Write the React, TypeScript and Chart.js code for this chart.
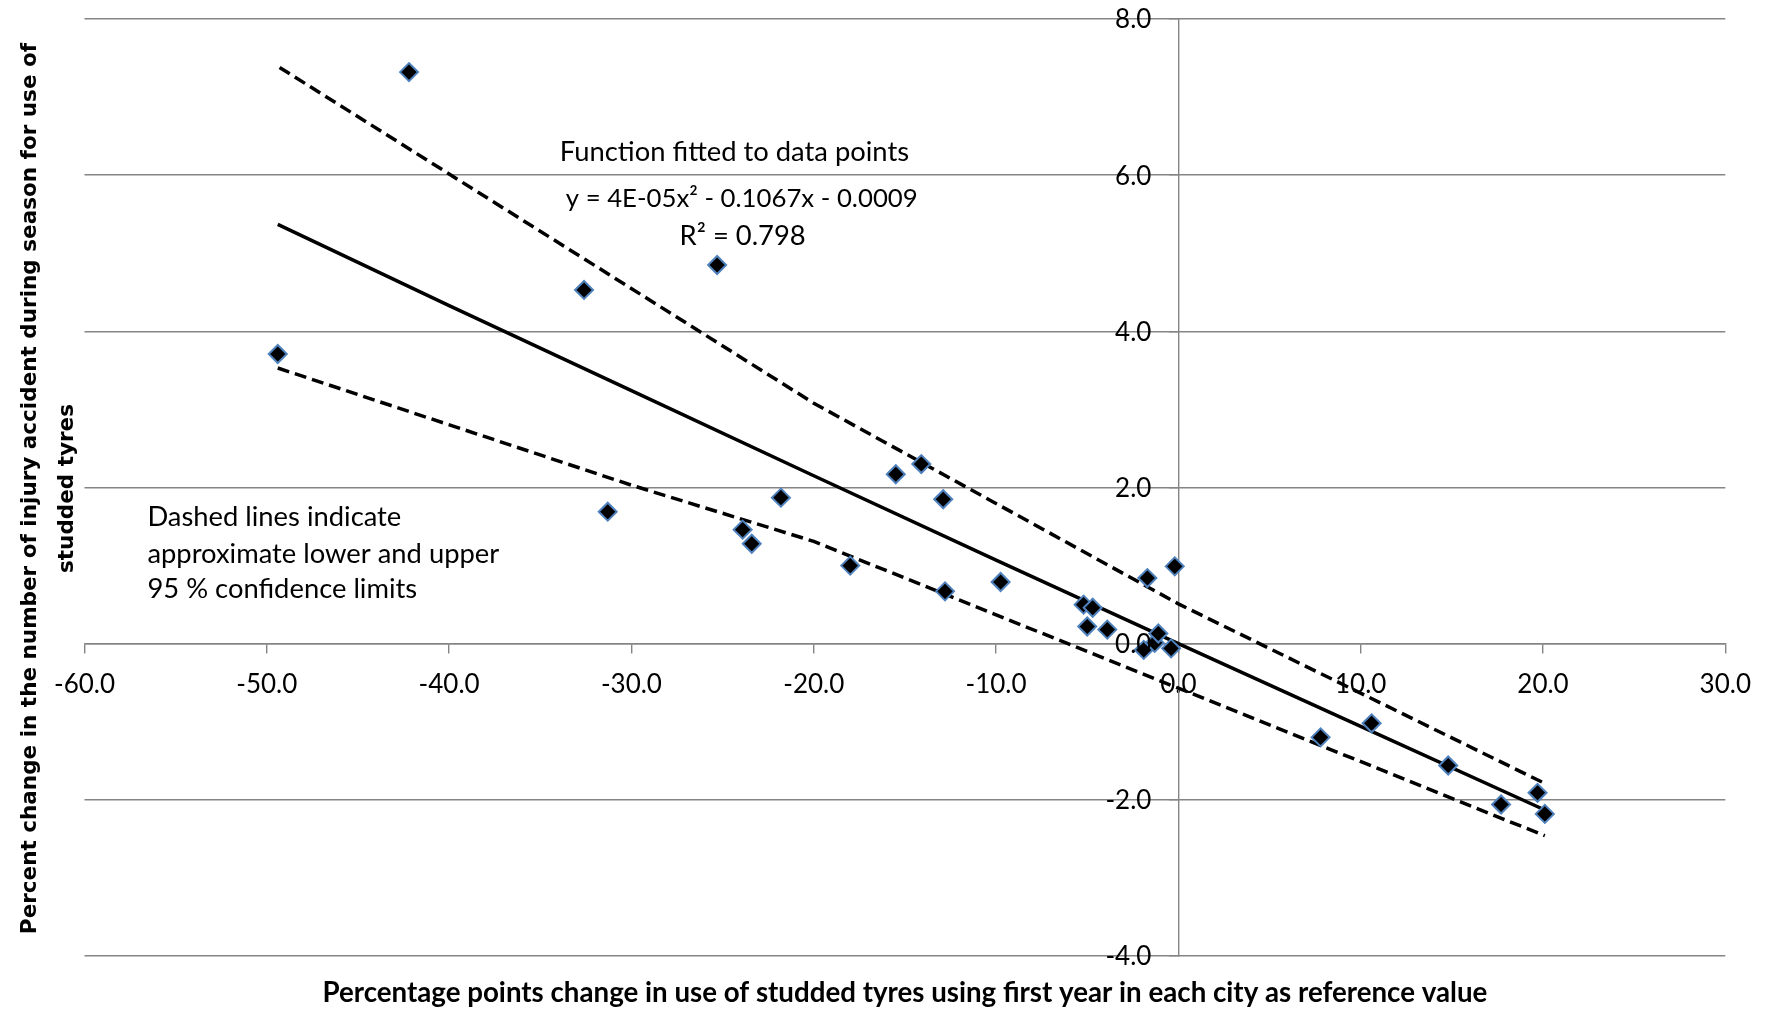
import React, { useEffect, useRef } from "react";
import { Chart, registerables } from "chart.js";

Chart.register(...registerables);

// ---- data ----
const pointX = [-49.4, -42.2, -32.6, -31.3, -25.3, -23.9, -23.4, -21.8, -18.0, -15.5, -14.1, -12.9, -12.8, -9.75, -5.2, -4.7, -5.0, -3.9, -1.7, -0.2, -1.9, -1.3, -1.1, -0.4, 7.8, 10.6, 14.8, 17.7, 19.7, 20.1];
const pointY = [3.71, 7.32, 4.53, 1.69, 4.85, 1.46, 1.28, 1.87, 1.0, 2.17, 2.3, 1.85, 0.67, 0.79, 0.5, 0.46, 0.22, 0.18, 0.84, 0.99, -0.08, 0.01, 0.13, -0.06, -1.2, -1.02, -1.56, -2.06, -1.91, -2.18];

const fitX = [-49.4, -40, -30, -20, -10, 0, 10, 20.1];
const fitY = [5.37, 4.33, 3.24, 2.15, 1.07, 0.0, -1.06, -2.13];

const upperX = [-49.3, -20, 0, 20.1];
const upperY = [7.38, 3.08, 0.51, -1.79];

const lowerX = [-49.4, -30, -20, 0, 20.1];
const lowerY = [3.53, 2.03, 1.31, -0.57, -2.46];

const xMin = -60, xMax = 30, xStep = 10;
const yMin = -4, yMax = 8, yStep = 2;

const xTitle = "Percentage points change in use of studded tyres using first year in each city as reference value";
const yTitleLines = ["Percent change in the number of injury accident during season for use of", "studded tyres"];
const fitNote = ["Function fitted to data points", "y = 4E-05x\u00B2 - 0.1067x - 0.0009", "R\u00B2 = 0.798"];
const fitNoteAnchor = { x: [-24.35, -23.95, -23.9], y: [6.3, 5.7, 5.22] };
const dashNote = ["Dashed lines indicate", "approximate lower and upper", "95 % confidence limits"];
const dashNoteAnchor = { x: -56.55, y: [1.62, 1.15, 0.7] };

const FONT = "Lato, 'Open Sans', sans-serif";
const GRID = "#858585";
const TICK_SIZE = 26;

function fitSize(ctx: CanvasRenderingContext2D, text: string, weight: string, family: string, target: number) {
  ctx.font = `${weight} 100px ${family}`;
  const w = ctx.measureText(text).width;
  return (100 * target) / w;
}

const textPlugin = {
  id: "textPlugin",
  afterDraw(chart: any) {
    const { ctx, chartArea, scales } = chart;
    const xs = scales.x;
    const ys = scales.y;
    ctx.save();
    ctx.fillStyle = "#000";

    // y tick labels (left of the y axis at x = 0)
    ctx.font = `${TICK_SIZE}px ${FONT}`;
    ctx.textAlign = "right";
    ctx.textBaseline = "middle";
    const axisX = xs.getPixelForValue(0);
    ys.ticks.forEach((t: any) => {
      ctx.fillText(Number(t.value).toFixed(1), axisX - 27, ys.getPixelForValue(t.value) + 1);
    });

    // notes
    const noteSize = fitSize(ctx, dashNote[1], "normal", FONT, 352);
    const eqSize = Math.min(noteSize, fitSize(ctx, fitNote[1], "normal", FONT, 352));
    ctx.textAlign = "center";
    fitNote.forEach((s, i) => {
      ctx.font = `${i === 1 ? eqSize : noteSize}px ${FONT}`;
      ctx.fillText(s, xs.getPixelForValue(fitNoteAnchor.x[i]), ys.getPixelForValue(fitNoteAnchor.y[i]));
    });
    ctx.font = `${noteSize}px ${FONT}`;
    ctx.textAlign = "left";
    dashNote.forEach((s, i) => {
      ctx.fillText(s, xs.getPixelForValue(dashNoteAnchor.x), ys.getPixelForValue(dashNoteAnchor.y[i]));
    });

    // x axis title
    const xtSize = fitSize(ctx, xTitle, "bold", FONT, 1165);
    ctx.font = `bold ${xtSize}px ${FONT}`;
    ctx.textAlign = "center";
    ctx.fillText(xTitle, (chartArea.left + chartArea.right) / 2, chartArea.bottom + 37);

    // y axis title (rotated, two lines)
    const ytFamily = "'DejaVu Sans', sans-serif";
    const ytSize = fitSize(ctx, yTitleLines[0], "bold", ytFamily, 892);
    ctx.font = `bold ${ytSize}px ${ytFamily}`;
    const cy = (chartArea.top + chartArea.bottom) / 2 + 1;
    const lineX = [30, 67];
    yTitleLines.forEach((s, i) => {
      ctx.save();
      ctx.translate(lineX[i], cy);
      ctx.rotate(-Math.PI / 2);
      ctx.textAlign = "center";
      ctx.textBaseline = "middle";
      ctx.fillText(s, 0, 0);
      ctx.restore();
    });
    ctx.restore();
  },
};

export default function App() {
  const ref = useRef<HTMLCanvasElement>(null);

  useEffect(() => {
    const canvas = ref.current!;
    const toPts = (xs: number[], ys: number[]) => xs.map((x, i) => ({ x, y: ys[i] }));
    const lineCommon = {
      type: "scatter" as const,
      showLine: true,
      pointRadius: 0,
      pointHoverRadius: 0,
      borderColor: "#000",
      borderWidth: 3.5,
      tension: 0,
      fill: false,
      order: 2,
    };
    const chart = new Chart(canvas, {
      type: "scatter",
      data: {
        datasets: [
          {
            label: "Cities",
            data: toPts(pointX, pointY),
            pointStyle: "rectRot",
            pointRadius: 9,
            pointBackgroundColor: "#000",
            pointBorderColor: "#4F81BD",
            pointBorderWidth: 2,
            order: 0,
          } as any,
          { ...lineCommon, label: "Fitted function", data: toPts(fitX, fitY) } as any,
          { ...lineCommon, label: "Upper 95 %", data: toPts(upperX, upperY), borderDash: [12, 6] } as any,
          { ...lineCommon, label: "Lower 95 %", data: toPts(lowerX, lowerY), borderDash: [12, 6] } as any,
        ],
      },
      options: {
        responsive: false,
        devicePixelRatio: 1,
        animation: false,
        events: [],
        layout: { padding: { left: 84.5, right: 37, top: 19, bottom: 53 } },
        plugins: { legend: { display: false }, tooltip: { enabled: false }, title: { display: false } },
        scales: {
          x: {
            type: "linear",
            position: { y: 0 } as any,
            min: xMin,
            max: xMax,
            ticks: {
              stepSize: xStep,
              autoSkip: false,
              maxRotation: 0,
              color: "#000",
              padding: 16,
              font: { family: FONT, size: TICK_SIZE },
              callback: (v: any) => Number(v).toFixed(1),
            },
            grid: { drawOnChartArea: false, drawTicks: true, tickLength: 9, color: GRID, lineWidth: 1.4 },
            border: { display: true, color: GRID, width: 1.4 },
          },
          y: {
            type: "linear",
            position: { x: 0 } as any,
            min: yMin,
            max: yMax,
            ticks: { stepSize: yStep, display: false },
            grid: { drawOnChartArea: true, drawTicks: true, tickLength: 9, color: GRID, lineWidth: 1.4 },
            border: { display: true, color: GRID, width: 1.4 },
          },
        },
      },
      plugins: [textPlugin],
    });
    return () => chart.destroy();
  }, []);

  return (
    <div style={{ position: "fixed", left: 0, top: 0, width: 1767, height: 1009, background: "#fff" }}>
      <canvas ref={ref} width={1767} height={1009} style={{ display: "block", width: 1767, height: 1009 }} />
    </div>
  );
}
